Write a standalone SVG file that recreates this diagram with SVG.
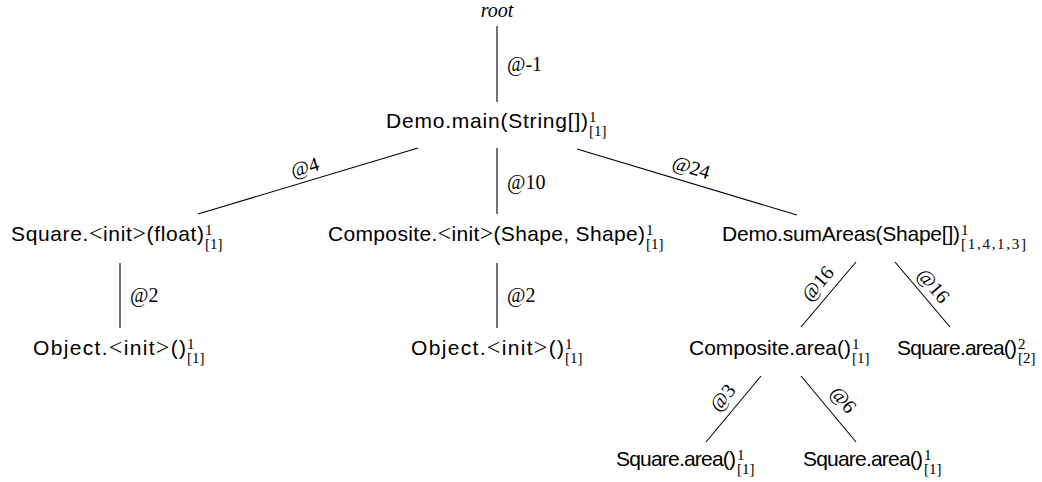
<svg xmlns="http://www.w3.org/2000/svg" width="1042" height="482" viewBox="0 0 1042 482">
<style>
.n{font-family:"Liberation Sans",Arial,sans-serif;font-size:21px;fill:#000}
.m{font-family:"Liberation Serif","Times New Roman",serif;font-size:24px}
.s{font-family:"Liberation Serif","Times New Roman",serif;font-size:15px;fill:#000}
.r{font-family:"Liberation Serif","Times New Roman",serif;font-size:20px;font-style:italic;text-anchor:middle;fill:#000}
.l{font-family:"Liberation Serif","Times New Roman",serif;font-size:20px;fill:#000}
.lc{text-anchor:middle}
.e{stroke:#000;stroke-width:1.1;fill:none}
</style>
<rect width="1042" height="482" fill="#fff"/>
<g id="connectors">
<line class="e" x1="497" y1="26" x2="497" y2="102"/>
<text class="l" x="507" y="71">@-1</text>
<line class="e" x1="418" y1="148" x2="198" y2="214"/>
<text class="l lc" transform="translate(305,168) rotate(-16.7)" x="0" y="6">@4</text>
<line class="e" x1="497" y1="148" x2="497" y2="214"/>
<text class="l" x="507" y="189">@10</text>
<line class="e" x1="577" y1="149" x2="797" y2="215"/>
<text class="l lc" transform="translate(691,168) rotate(16.7)" x="0" y="6">@24</text>
<line class="e" x1="120" y1="263" x2="120" y2="328"/>
<text class="l" x="130" y="302">@2</text>
<line class="e" x1="497" y1="263" x2="497" y2="328"/>
<text class="l" x="507" y="302">@2</text>
<line class="e" x1="856" y1="262" x2="801" y2="327"/>
<text class="l lc" transform="translate(818,284) rotate(-49.8)" x="0" y="6">@16</text>
<line class="e" x1="895" y1="262" x2="950" y2="327"/>
<text class="l lc" transform="translate(933,286) rotate(49.8)" x="0" y="6">@16</text>
<line class="e" x1="761" y1="376" x2="706" y2="442"/>
<text class="l lc" transform="translate(723,398) rotate(-50.2)" x="0" y="6">@3</text>
<line class="e" x1="801" y1="376" x2="856" y2="442"/>
<text class="l lc" transform="translate(843,400) rotate(50.2)" x="0" y="6">@6</text>
</g>
<g id="root"><text class="r" x="497" y="17">root</text></g>
<g id="main"><text class="n" x="386" y="128" textLength="202">Demo.main(String[])</text><text class="s" x="589" y="121.5">1</text><text class="s" x="589" y="136">[1]</text></g>
<g id="square-init"><text class="n" x="11" y="241" textLength="193">Square.<tspan class="m">&lt;</tspan>init<tspan class="m">&gt;</tspan>(float)</text><text class="s" x="205" y="234.5">1</text><text class="s" x="205" y="249">[1]</text></g>
<g id="composite-init"><text class="n" x="328" y="241" textLength="317">Composite.<tspan class="m">&lt;</tspan>init<tspan class="m">&gt;</tspan>(Shape, Shape)</text><text class="s" x="646" y="234.5">1</text><text class="s" x="646" y="249">[1]</text></g>
<g id="sumareas"><text class="n" x="722" y="241" textLength="238">Demo.sumAreas(Shape[])</text><text class="s" x="961" y="234.5">1</text><text class="s" x="961" y="249" textLength="65">[1,4,1,3]</text></g>
<g id="object-init-1"><text class="n" x="33" y="355" textLength="153">Object.<tspan class="m">&lt;</tspan>init<tspan class="m">&gt;</tspan>()</text><text class="s" x="187" y="348.5">1</text><text class="s" x="187" y="363">[1]</text></g>
<g id="object-init-2"><text class="n" x="411" y="355" textLength="153">Object.<tspan class="m">&lt;</tspan>init<tspan class="m">&gt;</tspan>()</text><text class="s" x="565" y="348.5">1</text><text class="s" x="565" y="363">[1]</text></g>
<g id="composite-area"><text class="n" x="689" y="355" textLength="162">Composite.area()</text><text class="s" x="852" y="348.5">1</text><text class="s" x="852" y="363">[1]</text></g>
<g id="square-area-2"><text class="n" x="897" y="355" textLength="120">Square.area()</text><text class="s" x="1018" y="348.5">2</text><text class="s" x="1018" y="363">[2]</text></g>
<g id="square-area-a"><text class="n" x="616" y="466" textLength="120">Square.area()</text><text class="s" x="737" y="459.5">1</text><text class="s" x="737" y="474">[1]</text></g>
<g id="square-area-b"><text class="n" x="803" y="466" textLength="120">Square.area()</text><text class="s" x="924" y="459.5">1</text><text class="s" x="924" y="474">[1]</text></g>
</svg>
